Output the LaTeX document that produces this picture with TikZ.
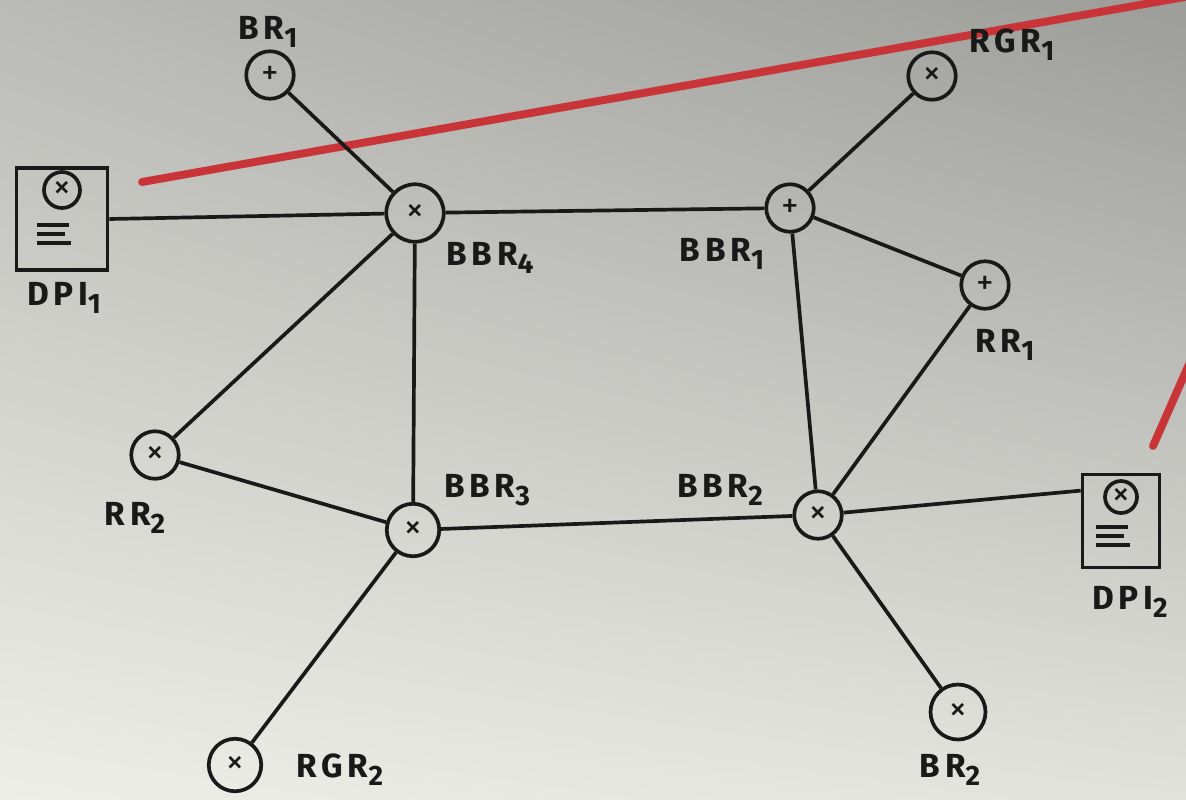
\documentclass[tikz,border=0pt]{standalone}
\usepackage{fontspec}
\setmainfont[LetterSpace=14]{Fira Sans}
\usetikzlibrary{positioning,shadings}
\definecolor{pen}{RGB}{25,25,25}
\definecolor{marker}{RGB}{200,52,55}
\definecolor{papertl}{RGB}{186,186,182}
\definecolor{papertr}{RGB}{156,156,153}
\definecolor{paperbl}{RGB}{238,238,233}
\definecolor{paperbr}{RGB}{226,226,221}
\tikzstyle{rtr}=[circle, draw, line width=2.1pt, inner sep=0pt,
minimum size=0.95cm, font=\fontsize{20}{20}\selectfont]
\tikzstyle{dpi}=[rectangle, draw, line width=2.1pt, inner sep=0pt]
\tikzstyle{lbl}=[font=\fontsize{19}{22}\selectfont\bfseries, inner sep=1pt]
\tikzstyle{link}=[line width=2.1pt]
\newcommand{\lsub}[1]{\raisebox{-0.45ex}{\fontsize{16}{16}\selectfont #1}}
% circle with x and three text lines inside a dpi box
\newcommand{\dpimark}[3]{%
 \node[circle, draw, line width=2.1pt, minimum size=#3, inner sep=0pt,
  font=\fontsize{20}{20}\selectfont] at ([yshift=#2]#1.center) {×};
 \foreach \dy/\wd in {0.12/0.64, 0.30/0.56, 0.48/0.68}
  \draw[line width=2pt] ([shift={(-0.5cm,-\dy cm)}]#1.center) -- +(\wd cm,0cm);
}

\begin{document}
\begin{tikzpicture}[x=0.02cm, y=-0.02cm, pen]
\useasboundingbox (0,0) rectangle (1186,799);
\shade[upper left=papertl, upper right=papertr,
 lower left=paperbl, lower right=paperbr]
 (0,0) rectangle (1186,799);

% red marker strokes
\draw[marker, line width=4.5pt, line cap=round] (142,182) -- (1190,-4);
\draw[marker, line width=4.5pt, line cap=round] (1153,446) -- (1190,362);

% routers
\node[rtr] (br1) at (270,75) {+};
\node[rtr, minimum width=1.15cm] (bbr4) at (415,213) {×};
\node[rtr] (bbr1) at (790,208) {+};
\node[rtr] (rgr1) at (932,76) {×};
\node[rtr] (rr1) at (985,285) {+};
\node[rtr] (rr2) at (155,455) {×};
\node[rtr, minimum size=1.05cm] (bbr3) at (413,530) {×};
\node[rtr] (bbr2) at (818,515) {×};
\node[rtr, minimum size=1.05cm] (rgr2) at (235,765) {×};
\node[rtr, minimum size=1.1cm] (br2) at (958,712) {×};

% dpi boxes
\node[dpi, minimum width=1.82cm, minimum height=2.04cm] (dpi1) at (62,219) {};
\dpimark{dpi1}{0.58cm}{0.72cm}
\node[dpi, minimum width=1.54cm, minimum height=1.86cm] (dpi2) at (1121,521) {};
\dpimark{dpi2}{0.48cm}{0.64cm}

% labels
\node[lbl] (l-br1) at (268,32) {BR\lsub{1}};
\node[lbl] (l-bbr4) at (490,258) {BBR\lsub{4}};
\node[lbl] (l-bbr1) at (722,254) {BBR\lsub{1}};
\node[lbl] (l-rgr1) at (1012,45) {RGR\lsub{1}};
\node[lbl] (l-rr1) at (1005,345) {RR\lsub{1}};
\node[lbl] (l-dpi1) at (64,298) {DPI\lsub{1}};
\node[lbl] (l-rr2) at (135,518) {RR\lsub{2}};
\node[lbl] (l-bbr3) at (487,490) {BBR\lsub{3}};
\node[lbl] (l-bbr2) at (720,490) {BBR\lsub{2}};
\node[lbl] (l-dpi2) at (1130,602) {DPI\lsub{2}};
\node[lbl] (l-rgr2) at (340,770) {RGR\lsub{2}};
\node[lbl] (l-br2) at (950,770) {BR\lsub{2}};

% links
\draw[link] (br1) -- (bbr4);
\draw[link] (dpi1.east) -- (bbr4);
\draw[link] (bbr4) -- (bbr1);
\draw[link] (bbr4) -- (rr2);
\draw[link] (bbr4) -- (bbr3);
\draw[link] (rr2) -- (bbr3);
\draw[link] (bbr3) -- (bbr2);
\draw[link] (bbr3) -- (rgr2);
\draw[link] (bbr1) -- (rgr1);
\draw[link] (bbr1) -- (rr1);
\draw[link] (bbr1) -- (bbr2);
\draw[link] (rr1) -- (bbr2);
\draw[link] (bbr2) -- (dpi2.143);
\draw[link] (bbr2) -- (br2);
\end{tikzpicture}
\end{document}
